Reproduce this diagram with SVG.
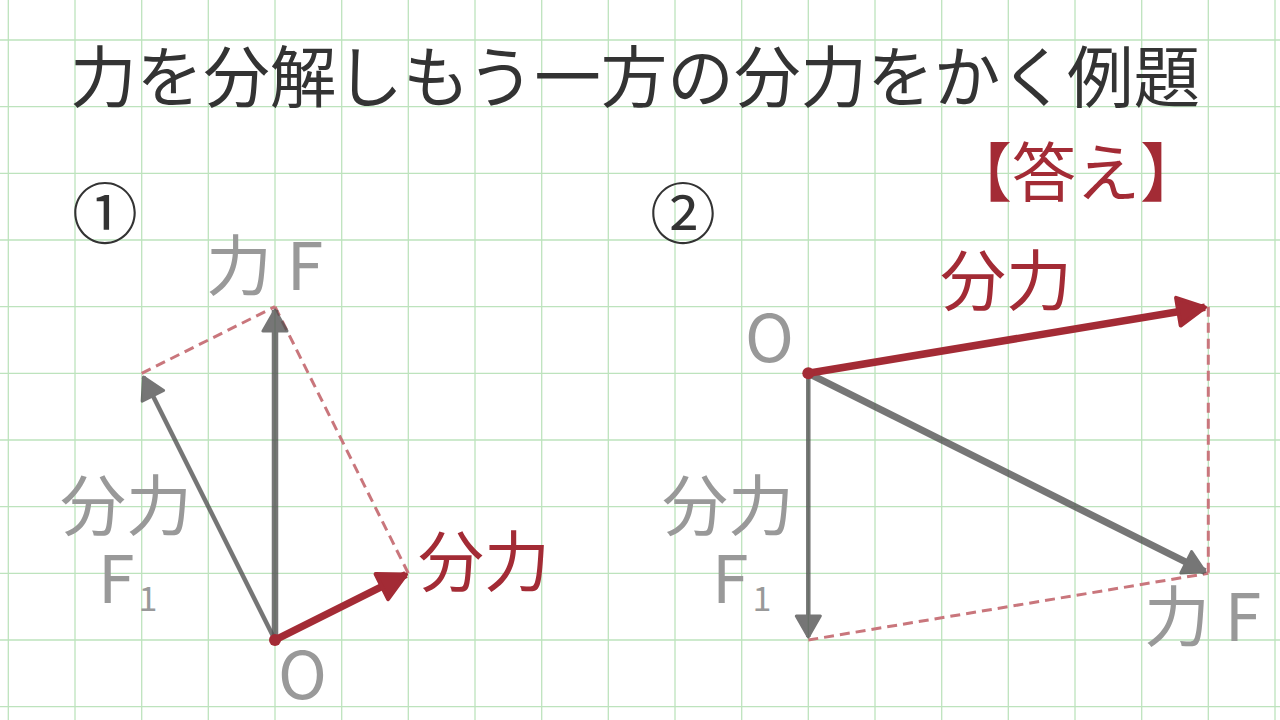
<svg xmlns="http://www.w3.org/2000/svg" width="1280" height="720" viewBox="0 0 1280 720">
<defs>
<style>
.grid line{stroke:#bde3bd;stroke-width:1.3}
.t{font-family:"Noto Sans CJK JP","Noto Sans",sans-serif}
.title{font-size:66.6px;fill:#333}
.num{font-size:66px;fill:#333}
.lbl{font-size:66px;fill:#999}
.sub{font-size:34px}
.red{fill:#a32b35}
.ans{font-size:64px;fill:#a32b35}
.gray{stroke:#505050;fill:none}
.redl{stroke:#a32b35;fill:none}
.dash{stroke:#c9767c;stroke-width:3;stroke-dasharray:10 6;fill:none}
</style>
<marker id="ag" viewBox="-26 -16 30 32" refX="0" refY="0" markerWidth="30" markerHeight="32" markerUnits="userSpaceOnUse" orient="auto">
<path d="M0,0 L-21,-12 L-21,12 Z" fill="#505050" stroke="#505050" stroke-width="3" stroke-linejoin="round"/>
</marker>
<marker id="ar" viewBox="-33 -19 37 38" refX="0" refY="0" markerWidth="37" markerHeight="38" markerUnits="userSpaceOnUse" orient="auto">
<path d="M0,0 L-27,-14 L-27,14 Z" fill="#a32b35" stroke="#a32b35" stroke-width="4" stroke-linejoin="round"/>
</marker>
</defs>
<rect width="1280" height="720" fill="#fff"/>
<g class="grid">
<line x1="8.3" y1="0" x2="8.3" y2="720"/><line x1="75" y1="0" x2="75" y2="720"/><line x1="141.7" y1="0" x2="141.7" y2="720"/><line x1="208.3" y1="0" x2="208.3" y2="720"/><line x1="275" y1="0" x2="275" y2="720"/><line x1="341.7" y1="0" x2="341.7" y2="720"/><line x1="408.3" y1="0" x2="408.3" y2="720"/><line x1="475" y1="0" x2="475" y2="720"/><line x1="541.7" y1="0" x2="541.7" y2="720"/><line x1="608.3" y1="0" x2="608.3" y2="720"/><line x1="675" y1="0" x2="675" y2="720"/><line x1="741.7" y1="0" x2="741.7" y2="720"/><line x1="808.3" y1="0" x2="808.3" y2="720"/><line x1="875" y1="0" x2="875" y2="720"/><line x1="941.7" y1="0" x2="941.7" y2="720"/><line x1="1008.3" y1="0" x2="1008.3" y2="720"/><line x1="1075" y1="0" x2="1075" y2="720"/><line x1="1141.7" y1="0" x2="1141.7" y2="720"/><line x1="1208.3" y1="0" x2="1208.3" y2="720"/><line x1="1275" y1="0" x2="1275" y2="720"/>
<line x1="0" y1="40" x2="1280" y2="40"/><line x1="0" y1="106.7" x2="1280" y2="106.7"/><line x1="0" y1="173.3" x2="1280" y2="173.3"/><line x1="0" y1="240" x2="1280" y2="240"/><line x1="0" y1="306.7" x2="1280" y2="306.7"/><line x1="0" y1="373.3" x2="1280" y2="373.3"/><line x1="0" y1="440" x2="1280" y2="440"/><line x1="0" y1="506.7" x2="1280" y2="506.7"/><line x1="0" y1="573.3" x2="1280" y2="573.3"/><line x1="0" y1="640" x2="1280" y2="640"/><line x1="0" y1="706.7" x2="1280" y2="706.7"/>
</g>
<g id="title"><text class="t title" x="70" y="102">力を分解しもう一方の分力をかく例題</text></g>
<g id="answer"><text class="t ans" x="948" y="196">【答え】</text></g>
<g id="num1"><text class="t num" x="72" y="238">①</text></g>
<g id="num2"><text class="t num" x="650" y="238">②</text></g>
<g id="connectors">
<line class="dash" x1="141.7" y1="373.3" x2="275" y2="306.7"/>
<line class="dash" x1="275" y1="306.7" x2="408.3" y2="573.3"/>
<g opacity="0.78"><line class="gray" x1="275" y1="640" x2="275" y2="310" stroke-width="6.5" marker-end="url(#ag)"/></g>
<g opacity="0.78"><line class="gray" x1="275" y1="640" x2="143.5" y2="377" stroke-width="4.5" marker-end="url(#ag)"/></g>
<line class="redl" x1="275" y1="640" x2="406" y2="574.5" stroke-width="7.5" marker-end="url(#ar)"/>
<circle cx="275" cy="640" r="6" fill="#a32b35"/>
<line class="dash" x1="808.3" y1="640" x2="1208.3" y2="573.3"/>
<line class="dash" x1="1208.3" y1="306.7" x2="1208.3" y2="573.3"/>
<g opacity="0.78"><line class="gray" x1="808.3" y1="373.3" x2="1205" y2="571.7" stroke-width="7" marker-end="url(#ag)"/></g>
<g opacity="0.78"><line class="gray" x1="808.3" y1="373.3" x2="808.3" y2="637" stroke-width="4.5" marker-end="url(#ag)"/></g>
<line class="redl" x1="808.3" y1="373.3" x2="1205" y2="307.3" stroke-width="7.5" marker-end="url(#ar)"/>
<circle cx="808.3" cy="373.3" r="6" fill="#a32b35"/>
</g>
<g id="labels1">
<text class="t lbl" x="206" y="290">力 F</text>
<text class="t lbl" x="60" y="530">分力</text>
<text class="t lbl" x="98" y="603">F<tspan class="sub" dx="4" dy="8">1</tspan></text>
<text class="t lbl" x="278" y="699">O</text>
<text class="t lbl red" x="418" y="586">分力</text>
</g>
<g id="labels2">
<text class="t lbl" x="745" y="362">O</text>
<text class="t lbl red" x="940" y="305">分力</text>
<text class="t lbl" x="662" y="530">分力</text>
<text class="t lbl" x="712" y="603">F<tspan class="sub" dx="4" dy="8">1</tspan></text>
<text class="t lbl" x="1144" y="641">力 F</text>
</g>
</svg>
